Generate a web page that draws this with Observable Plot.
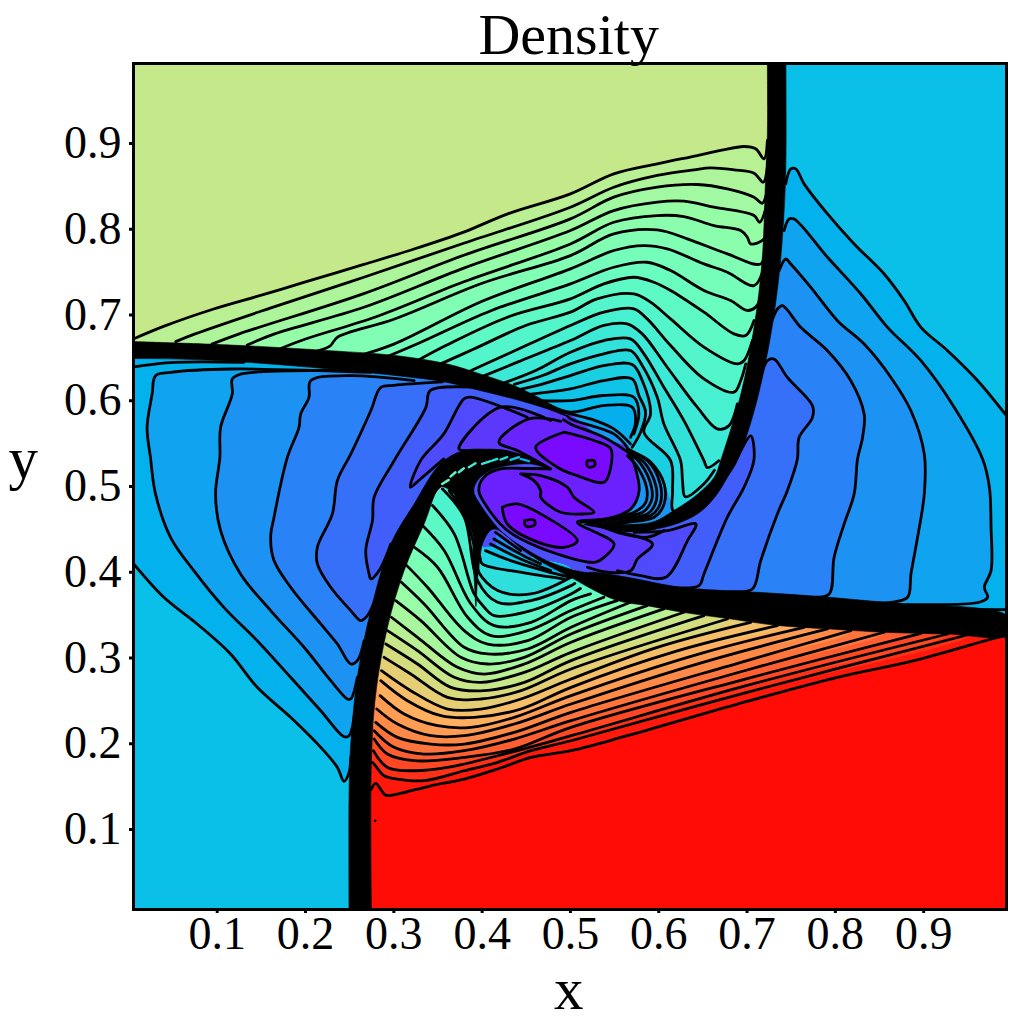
<!DOCTYPE html>
<html><head><meta charset="utf-8">
<style>html,body{margin:0;padding:0;background:#fff}svg{display:block}</style>
<script src="https://cdn.jsdelivr.net/npm/d3@7"></script>
<script src="https://cdn.jsdelivr.net/npm/@observablehq/plot@0.6"></script>
</head><body><div id="chart"></div>
<script>
const title="Density", xLabel="x", yLabel="y";
const xTicks=[.1,.2,.3,.4,.5,.6,.7,.8,.9], yTicks=[.1,.2,.3,.4,.5,.6,.7,.8,.9];
const xDomain=[.0052,.9938], yDomain=[.0067,.9933];

// wedge boundaries read along the thick fronts
const wedgeTop=[[.005,.66],[.115,.655],[.228,.648],[.304,.641],[.361,.632],[.399,.621],[.436,.61],[.474,.595],[.5,.583],[.534,.558],[.5645,.544],[.606,.503],[.6137,.468],[.629,.474],[.655,.491],[.669,.511],[.678,.53],[.7,.6],[.717,.68],[.727,.755],[.732,.82],[.7335,.88],[.7335,.94],[.7335,.9933]];
const wedgeRight=[[.7335,.9933],[.7335,.94],[.7335,.88],[.732,.82],[.727,.755],[.717,.68],[.7,.6],[.678,.53],[.669,.511],[.655,.491],[.633,.472],[.598,.455],[.56,.449],[.527,.4],[.565,.385],[.65,.37],[.75,.36],[.85,.35],[.95,.342],[.9938,.338],[.9938,.45],[.9938,.58],[.9938,.7],[.9938,.9933]];
const wedgeBottom=[[.2625,.0067],[.2625,.1413],[.2663,.1996],[.2739,.2775],[.287,.3553],[.3079,.4214],[.3325,.472],[.3608,.505],[.3797,.5186],[.391,.4914],[.3986,.4408],[.4005,.4292],[.4175,.4292],[.4553,.4175],[.5007,.4039],[.538,.3883],[.5756,.3766],[.651,.363],[.727,.355],[.802,.345],[.916,.339],[.9938,.337]];
const wedgeLeft=[[.0052,.0067],[.0052,.2],[.0052,.3],[.0052,.41],[.0052,.5],[.0052,.6],[.0052,.66],[.115,.655],[.228,.648],[.304,.641],[.361,.632],[.399,.621],[.436,.61],[.474,.595],[.5,.583],[.534,.558],[.5645,.544],[.476,.519],[.432,.532],[.391,.53],[.3608,.512],[.3325,.472],[.3079,.4214],[.287,.3553],[.2739,.2775],[.2663,.1996],[.2625,.1413],[.2625,.0067]];
const centerPatch=[[.33,.34],[.72,.34],[.72,.62],[.33,.62]];

// thick black fronts
const frontUp=[[.723,.9933],[.723,.91],[.721,.86],[.717,.763],[.708,.686],[.693,.608],[.67,.53],[.663,.511],[.644,.491],[.617,.472],[.591,.458],[.515,.456],[.545,.4506],[.568,.4486],[.598,.4506],[.629,.46],[.649,.472],[.666,.491],[.678,.511],[.689,.53],[.708,.588],[.725,.666],[.736,.744],[.742,.822],[.744,.88],[.744,.9933]];
const frontLeft=[[.0052,.669],[.115,.665],[.228,.6584],[.304,.6525],[.3608,.6428],[.3986,.631],[.4364,.6175],[.474,.598],[.4968,.582],[.474,.5905],[.4364,.602],[.3986,.6117],[.3608,.6214],[.304,.6292],[.228,.637],[.134,.6448],[.0584,.6486],[.0052,.6492]];
const frontLow=[[.2493,.0067],[.2493,.1413],[.2512,.1996],[.2587,.2775],[.2739,.3553],[.2966,.433],[.323,.4797],[.3528,.5264],[.3793,.542],[.417,.542],[.4511,.5341],[.4775,.5205],[.4549,.5264],[.4284,.5244],[.4095,.5186],[.3963,.5089],[.3906,.4952],[.4,.4758],[.4227,.4466],[.4435,.431],[.4775,.4116],[.5153,.4],[.5267,.4],[.5645,.3941],[.6025,.3863],[.6477,.379],[.704,.377],[.791,.371],[.878,.363],[.969,.357],[.9938,.349],[.9938,.327],[.927,.328],[.855,.33],[.791,.334],[.734,.338],[.678,.346],[.629,.353],[.587,.361],[.553,.367],[.523,.381],[.504,.392],[.4662,.4126],[.4473,.4252],[.4133,.4505],[.4019,.437],[.3963,.4058],[.3944,.3863],[.393,.36],[.3906,.398],[.3887,.4175],[.3906,.4408],[.3906,.4486],[.3793,.4719],[.3679,.4914],[.3533,.4995],[.3343,.4564],[.3117,.4019],[.2928,.3358],[.2795,.258],[.2746,.1802],[.2746,.0067]];
const tongueTicks=[[[.3547,.503],[.3622,.5077]],[[.3641,.5116],[.3698,.5166]],[[.3736,.5166],[.3793,.5213]],[[.3849,.5225],[.3925,.5271]],[[.4,.5264],[.4095,.5295]],[[.4114,.5303],[.4171,.5322]],[[.4208,.5314],[.4284,.5342]],[[.4322,.531],[.4416,.5342]],[[.4435,.5322],[.453,.5295]]];
const tickLevels=[.44,.42,.4,.38,.36,.34,.32,.28,.24];

// contour polylines, upper wedge
const topLevels=[.61,.588,.566,.544,.522,.5,.478,.456,.434,.412,.39,.368,.346,.324,.302,.28,.26,.24,.22,.2,.18];
const topLines=[
[[.005,.672],[.04,.687],[.096,.707],[.153,.724],[.198,.738],[.266,.759],[.323,.777],[.38,.797],[.429,.818],[.5,.8413],[.5491,.8646],[.5983,.8763],[.6436,.886],[.6701,.8919],[.6966,.8965],[.7098,.8938],[.7192,.8821],[.723,.9035]],
[[.053,.669],[.075,.678],[.16,.708],[.266,.744],[.38,.784],[.5,.8257],[.5491,.849],[.5983,.8627],[.6399,.8693],[.6588,.8716],[.6852,.8693],[.7079,.8654],[.7185,.8549],[.7238,.8802]],
[[.094,.666],[.125,.678],[.266,.725],[.38,.77],[.5,.8121],[.5491,.8374],[.5983,.8491],[.6436,.8522],[.6777,.8471],[.7079,.8374],[.7174,.8304],[.7249,.8568]],
[[.134,.665],[.165,.678],[.266,.709],[.38,.755],[.5,.7985],[.5491,.8218],[.5983,.8316],[.6285,.8327],[.6625,.8257],[.7079,.816],[.7143,.8082],[.723,.8316]],
[[.172,.661],[.2,.672],[.28,.698],[.38,.739],[.5,.7829],[.5491,.8082],[.5983,.816],[.6285,.8148],[.6625,.8043],[.6928,.7985],[.7003,.7907],[.7041,.7829],[.7192,.7888],[.7268,.8179]],
[[.213,.658],[.228,.664],[.236,.674],[.3,.695],[.4,.737],[.5,.7693],[.5491,.7946],[.5983,.7993],[.6323,.7888],[.6777,.7713],[.7155,.7596],[.7211,.7829]],
[[.259,.652],[.3,.666],[.4,.716],[.5,.7538],[.5491,.7752],[.5832,.781],[.6096,.7771],[.6512,.7596],[.6777,.7499],[.7079,.7343],[.7174,.75]],
[[.289,.65],[.33,.668],[.41,.705],[.5,.7363],[.5491,.7557],[.5869,.7615],[.6134,.7518],[.6512,.7286],[.6814,.7169],[.7003,.7053],[.7098,.7092],[.7174,.7247]],
[[.327,.647],[.36,.665],[.43,.698],[.5,.7188],[.5378,.7363],[.5718,.744],[.5945,.7382],[.6134,.7286],[.6512,.7033],[.6852,.678],[.6985,.6761],[.7079,.6936]],
[[.353,.643],[.39,.66],[.45,.688],[.5,.7033],[.5302,.7189],[.5718,.7247],[.5907,.715],[.6134,.6955],[.6512,.6625],[.689,.643],[.6966,.6469],[.706,.6702]],
[[.387,.635],[.43,.655],[.5,.6878],[.5378,.7033],[.5718,.7072],[.5869,.6955],[.6134,.6644],[.6512,.6255],[.6852,.61],[.6928,.6236],[.6985,.643]],
[[.402,.629],[.44,.645],[.5,.6702],[.5378,.6878],[.5643,.6897],[.5813,.678],[.6096,.6391],[.6436,.5925],[.6663,.5672],[.6796,.571],[.689,.5963]],
[[.425,.621],[.46,.635],[.5,.6566],[.5378,.6702],[.568,.6722],[.5832,.6547],[.6058,.6158],[.6285,.5769],[.6512,.5302],[.655,.522],[.668,.53]],
[[.4364,.619],[.47,.63],[.5,.643],[.5378,.6547],[.568,.6586],[.5813,.641],[.5983,.6041],[.6058,.573],[.6247,.5302],[.627,.505],[.63,.488],[.651,.503],[.663,.519]],
[[.444,.6136],[.47,.62],[.5,.6294],[.5378,.641],[.5699,.6422],[.5813,.6236],[.5907,.5847],[.5832,.5633],[.6134,.5302],[.6156,.4952],[.616,.472],[.625,.47],[.649,.493]],
[[.4553,.6078],[.5,.6139],[.5378,.6236],[.5699,.6255],[.5775,.6061],[.5851,.5866],[.5794,.5633],[.5699,.5458]],
[[.4667,.6],[.5,.6002],[.5378,.6061],[.5718,.6041],[.5775,.5847],[.5718,.5613]],
[[.478,.5942],[.5,.5866],[.5378,.5944],[.5699,.5925],[.5737,.5749],[.568,.5574]],
[[.4893,.5886],[.5,.5847],[.5227,.5788],[.5491,.5672],[.568,.5497]],
[[.4968,.582],[.5,.5788],[.5491,.5613],[.5643,.5458]],
[[.492,.578],[.5,.573],[.5378,.5574],[.5624,.5419]]
];

// right wedge
const rightLevels=[.245,.22,.195,.17,.145,.12,.095];
const rightLines=[
[[.7438,.8529],[.7495,.8704],[.7552,.8704],[.7646,.8529],[.7911,.8179],[.8213,.7829],[.8553,.7478],[.878,.7167],[.8969,.6856],[.9271,.6584],[.9612,.6234],[.9938,.5825]],
[[.7419,.7984],[.7476,.812],[.7533,.812],[.7911,.7673],[.8289,.7245],[.8591,.6856],[.8969,.6467],[.9347,.5922],[.9668,.5319],[.9744,.4992],[.9763,.4525],[.9763,.4019],[.9687,.3825],[.9725,.3708],[.9631,.365],[.878,.3623],[.8024,.3638],[.7457,.3669]],
[[.7363,.7517],[.7438,.7653],[.7495,.7595],[.7722,.7323],[.8024,.6934],[.8326,.6661],[.8629,.6272],[.8856,.5883],[.9007,.5378],[.9007,.4914],[.8931,.4408],[.8856,.398],[.8818,.3708],[.8629,.365],[.8213,.365],[.7646,.3669],[.7268,.3689]],
[[.7268,.6895],[.7344,.707],[.74,.7109],[.7608,.6856],[.7911,.6584],[.8175,.6234],[.8326,.5845],[.8308,.5572],[.8251,.532],[.8213,.4914],[.81,.4564],[.7986,.4175],[.793,.3747],[.7759,.3708],[.7268,.3728],[.689,.3747]],
[[.7155,.6272],[.723,.6467],[.7306,.6486],[.7457,.6272],[.7741,.5942],[.7741,.5806],[.7589,.5572],[.757,.532],[.7457,.4953],[.7344,.4681],[.7155,.4136],[.706,.3805],[.6814,.3774],[.6323,.3805]],
[[.689,.5339],[.7041,.559],[.7079,.532],[.6966,.4992],[.6777,.4642],[.6512,.398],[.6455,.3844],[.6134,.3825],[.5869,.3883]],
[[.5721,.4466],[.6099,.4486],[.642,.4563],[.6326,.4369],[.608,.3941],[.5797,.396],[.5532,.4019]]
];
const rightSlivers=[[[.72,.3632],[.85,.3578],[.9938,.3565]],[[.82,.352],[.92,.351],[.9938,.349]]];

// lower wedge
const lowLevels=[.97,.94,.91,.88,.85,.82,.79,.76,.73,.7,.67,.64,.61,.58,.55,.52,.49,.46,.43,.4,.37,.34,.31,.28,.25,.22,.19];
const lowLines=[
[[.2746,.147],[.2795,.1538],[.2909,.1401],[.3041,.1413],[.3419,.151],[.3797,.1588],[.4175,.1705],[.4553,.1841],[.5007,.1919],[.5643,.2094],[.689,.2463],[.8024,.2775],[.8893,.2969],[.9838,.3241],[.9938,.326]],
[[.2746,.178],[.2758,.1783],[.289,.1627],[.3041,.1588],[.3343,.1569],[.3797,.1685],[.4175,.1783],[.4553,.1919],[.5007,.2035],[.7,.26],[.9536,.328]],
[[.2769,.1919],[.2928,.1724],[.323,.1685],[.3608,.1724],[.4175,.186],[.5007,.2094],[.7,.268],[.9271,.328]],
[[.2777,.2055],[.2928,.188],[.323,.1802],[.3797,.1841],[.4364,.1938],[.5007,.2191],[.7,.276],[.8969,.3288]],
[[.2777,.2152],[.3003,.1958],[.3343,.188],[.3797,.1919],[.4364,.2055],[.5007,.2269],[.7,.286],[.8553,.33]],
[[.2795,.2249],[.3041,.2074],[.3419,.1996],[.3797,.1996],[.4364,.2133],[.5007,.2366],[.7,.297],[.8175,.3319]],
[[.2807,.2405],[.3041,.223],[.3419,.2094],[.3797,.2094],[.4364,.223],[.5007,.2463],[.65,.295],[.7911,.3339]],
[[.2845,.2561],[.3117,.2347],[.3495,.221],[.3873,.2191],[.4364,.2308],[.5007,.2561],[.65,.306],[.7646,.3358]],
[[.2852,.2736],[.3154,.2502],[.3533,.2327],[.391,.2308],[.444,.2405],[.5007,.2658],[.62,.308],[.7344,.3377]],
[[.286,.2852],[.3192,.2619],[.3608,.2405],[.3986,.2405],[.444,.2522],[.5007,.2755],[.6,.313],[.7041,.3416]],
[[.289,.3008],[.3192,.2813],[.3608,.2541],[.3986,.2522],[.444,.2619],[.5007,.2872],[.6777,.3455]],
[[.2909,.3163],[.3268,.293],[.3646,.2658],[.4024,.2619],[.4478,.2716],[.5007,.2969],[.6512,.3494]],
[[.2928,.3319],[.3268,.3086],[.3684,.2775],[.3986,.2716],[.4478,.2833],[.5007,.3066],[.6285,.3533]],
[[.2973,.3475],[.3268,.3241],[.3721,.2891],[.4024,.2813],[.4478,.293],[.5007,.3183],[.6058,.3572]],
[[.3022,.3669],[.3306,.3436],[.3759,.3008],[.4062,.293],[.4478,.3008],[.5007,.328],[.5869,.3611]],
[[.3086,.3883],[.3343,.363],[.3797,.3125],[.4062,.3047],[.4515,.3105],[.5007,.3358],[.568,.365]],
[[.3136,.4089],[.3381,.3825],[.3797,.3319],[.4062,.3163],[.4515,.3202],[.5007,.3475],[.5529,.3669]],
[[.323,.4292],[.3495,.4058],[.3835,.3475],[.41,.3261],[.4515,.3319],[.5007,.3553],[.5378,.3708]],
[[.3325,.4544],[.357,.4253],[.3873,.363],[.4137,.3377],[.4553,.3416],[.5007,.3669],[.5227,.3747]],
[[.3438,.4778],[.3684,.4447],[.391,.3747],[.4024,.3591],[.4137,.3494],[.4553,.3553],[.5007,.3747],[.5113,.381]],
[[.3551,.4972],[.3797,.4642],[.3948,.3903],[.4175,.365],[.4553,.3669],[.5007,.3844],[.505,.387]],
[[.3627,.495],[.381,.465],[.3945,.4136],[.3963,.3999],[.4175,.3786],[.4553,.3747],[.5007,.3941]],
[[.3703,.489],[.389,.45],[.3975,.4175],[.4,.41],[.4435,.4],[.4931,.392]],
[[.4038,.4252],[.4322,.4136],[.47,.402],[.5,.394]],
[[.4095,.433],[.4435,.4155],[.4775,.402]],
[[.4133,.4388],[.4473,.419],[.4662,.41]],
[[.4152,.4466],[.4435,.4252]]
];

// left wedge
const leftLevels=[.245,.22,.195,.17,.145,.12,.095,.07,.045];
const leftLines=[
[[.0052,.41],[.0395,.3708],[.0773,.3397],[.1151,.3047],[.1453,.2658],[.1831,.2308],[.2172,.1958],[.2361,.1724],[.2436,.1561],[.2493,.1666],[.2512,.1841]],
[[.2739,.633],[.1151,.637],[.0471,.6331],[.0301,.6292],[.0263,.6078],[.0206,.5689],[.0244,.5339],[.0301,.4914],[.0471,.4408],[.0735,.4019],[.1075,.3591],[.1453,.3202],[.1831,.2775],[.2172,.2385],[.2436,.2082],[.2493,.2094],[.255,.2308]],
[[.2663,.635],[.1264,.6311],[.117,.6253],[.117,.6078],[.1038,.5689],[.103,.5339],[.0981,.4914],[.1038,.4486],[.1264,.398],[.1605,.3553],[.1983,.3125],[.2285,.2736],[.2474,.2522],[.2512,.2522],[.2587,.2775]],
[[.323,.6234],[.2474,.6292],[.2058,.6234],[.2039,.6039],[.1945,.5845],[.1926,.5689],[.1794,.5339],[.1643,.4642],[.1605,.4408],[.1643,.4136],[.1831,.3825],[.2172,.3397],[.2361,.3163],[.2512,.293],[.2587,.2969],[.2663,.3202]],
[[.355,.622],[.3,.618],[.2852,.6156],[.2739,.5884],[.2512,.5378],[.2361,.507],[.2304,.468],[.2134,.4292],[.2134,.4097],[.2285,.3825],[.2512,.3553],[.2625,.3436],[.2701,.3494],[.2814,.3747]],
[[.4,.615],[.3415,.612],[.3362,.592],[.3003,.53],[.2777,.4875],[.2758,.4603],[.2682,.4253],[.272,.398],[.2739,.3922],[.2833,.4019],[.2966,.433]],
[[.4511,.5808],[.3869,.6042],[.3793,.6022],[.3566,.5614],[.3302,.5302],[.3188,.4991],[.3302,.5088],[.3566,.5322]],
[[.4776,.577],[.4209,.5925],[.3737,.5439],[.3831,.5419],[.4209,.5419],[.4549,.5322],[.4757,.5205]],
[[.489,.576],[.453,.5789],[.419,.5516],[.4398,.5419],[.4776,.5205]]
];
const leftSliver=[[.0074,.6397],[.0508,.6447],[.13,.6447]];

// spiral core
const spiralBand=[[.5645,.5439],[.5872,.5302],[.6061,.503],[.6137,.472],[.6,.452],[.5494,.4486],[.5078,.4583],[.5419,.4622],[.5683,.4738],[.5778,.4952],[.5721,.5263]];
const fingerLine=[[.5192,.4575],[.5494,.4486],[.5929,.433],[.5759,.4155],[.5683,.4019],[.5419,.4],[.5192,.4058]];
const coreRing=[[.5645,.5439],[.5721,.5263],[.5778,.4952],[.5683,.4738],[.5419,.4622],[.5078,.4583],[.5494,.433],[.5381,.4174],[.5267,.4116],[.4851,.4213],[.4473,.4369],[.4265,.4505],[.4057,.4758],[.3963,.4952],[.402,.5108],[.4208,.5205],[.45,.521],[.4775,.5205]];
const spiralLines=[
[[.5645,.5439],[.5721,.54],[.591,.5283],[.6061,.503],[.6061,.4797],[.5948,.4641],[.5645,.4583],[.5494,.4555]],
[[.5645,.5419],[.5872,.5302],[.6016,.503],[.6016,.4797],[.591,.4661],[.5608,.4602],[.5419,.4563],[.5343,.454]],
[[.5645,.54],[.5834,.5283],[.5967,.5011],[.5967,.4816],[.5872,.468],[.557,.4622],[.5267,.4563]],
[[.5664,.5388],[.5797,.5263],[.5918,.4991],[.5918,.4836],[.5816,.4699],[.5532,.4641],[.5192,.4575]],
[[.5645,.536],[.5766,.5217],[.5865,.4972],[.5853,.4816],[.5721,.4699],[.5494,.4641],[.5116,.4583]],
[[.5343,.454],[.557,.4454],[.5872,.4408],[.6061,.4486]],
[[.5419,.4524],[.5645,.4486],[.5948,.4505]],
[[.5494,.4555],[.5721,.4524],[.5986,.4563]]
];
const coreLobes=[
[[.4927,.5633],[.4606,.5458],[.4852,.5225],[.5078,.5127],[.5381,.505],[.5456,.5225],[.5456,.5439],[.5267,.5536],[.4927,.5633]],
[[.4436,.5147],[.4663,.5127],[.4965,.4991],[.504,.4875],[.5267,.4699],[.5154,.468],[.489,.4699],[.4663,.4875],[.4663,.4952],[.4587,.5069],[.4436,.5147]],
[[.4228,.4758],[.4398,.4797],[.4663,.468],[.5078,.4369],[.4927,.4291],[.4587,.4369],[.4285,.4563],[.4228,.4758]],
[[.5192,.5302],[.5267,.5302],[.5275,.5244],[.5211,.5225],[.5184,.5263],[.5192,.5302]],
[[.4481,.4602],[.4587,.461],[.4598,.4555],[.4511,.4532],[.4481,.4563],[.4481,.4602]]
];
const lobeLevels=[.012,.02,.012,0,0];
const strayDot=[[.2788,.1102]];
const plateau={top:.635,right:.27,bottom:.985,left:.27,spiral:.2,finger:.07,core:.04,center:.1};

// matplotlib "rainbow" as the colour interpolator
const rainbow=t=>{const c=v=>Math.round(255*Math.max(0,Math.min(1,v)));
  return `rgb(${c(Math.abs(2*t-.5))},${c(Math.sin(Math.PI*t))},${c(Math.cos(Math.PI*t/2))})`;};

const nearest=(W,p)=>d3.minIndex(W,q=>(q[0]-p[0])**2+(q[1]-p[1])**2);
function band(line,W){
  const i=nearest(W,line[0]), j=nearest(W,line[line.length-1]);
  const tail=W.slice(Math.min(i,j),Math.max(i,j)+1);
  if(j>i) tail.reverse();
  return line.concat(tail);
}
const fills=[], strokes=[], black=[], ticks=[];
let id=0;
const addFill=(pts,level)=>{id++;pts.forEach(p=>fills.push({id,x:p[0],y:p[1],level}));};
const addStroke=pts=>{id++;pts.forEach(p=>strokes.push({id,x:p[0],y:p[1]}));};
const addBlack=pts=>{id++;pts.forEach(p=>black.push({id,x:p[0],y:p[1]}));};

addFill(centerPatch,plateau.center);
addFill(wedgeTop.concat([[xDomain[0],yDomain[1]]]),plateau.top);
addFill(wedgeRight,plateau.right);
addFill(wedgeBottom.concat([[xDomain[1],yDomain[0]]]),plateau.bottom);
addFill(wedgeLeft,plateau.left);
topLines.forEach((l,i)=>addFill(band(l,wedgeTop),topLevels[i]));
rightLines.forEach((l,i)=>addFill(band(l,wedgeRight),rightLevels[i]));
lowLines.forEach((l,i)=>addFill(band(l,wedgeBottom),lowLevels[i]));
leftLines.forEach((l,i)=>addFill(band(l,wedgeLeft),leftLevels[i]));
addFill(spiralBand,plateau.spiral);
addFill(fingerLine,plateau.finger);
addFill(coreRing,plateau.core);
coreLobes.forEach((l,i)=>addFill(l,lobeLevels[i]));

[frontUp,frontLeft,frontLow].forEach(addBlack);
[...topLines,...rightLines,...rightSlivers,...lowLines,...leftLines,leftSliver,...spiralLines,fingerLine,coreRing,...coreLobes].forEach(addStroke);
tongueTicks.forEach((l,i)=>{id++;l.forEach(p=>ticks.push({id,x:p[0],y:p[1],level:tickLevels[i]}));});

const serif='"Liberation Serif","Times New Roman",serif';
const chart=Plot.plot({
  width:1013,height:1030,marginLeft:133,marginRight:7,marginTop:63,marginBottom:121,
  style:{fontFamily:serif,background:"#fff",color:"#000"},
  x:{domain:xDomain,label:null},
  y:{domain:yDomain,label:null},
  color:{type:"linear",domain:[0,1],interpolate:rainbow},
  marks:[
    Plot.line(fills,{x:"x",y:"y",z:"id",fill:"level",stroke:"none",curve:"catmull-rom",clip:true}),
    Plot.line(black,{x:"x",y:"y",z:"id",fill:"#000",stroke:"#000",strokeWidth:.6,curve:"catmull-rom",clip:true}),
    Plot.line(strokes,{x:"x",y:"y",z:"id",stroke:"#000",strokeWidth:2.8,curve:"catmull-rom",clip:true}),
    Plot.line(ticks,{x:"x",y:"y",z:"id",stroke:"level",strokeWidth:2.4,clip:true}),
    Plot.dot(strayDot,{x:d=>d[0],y:d=>d[1],r:1.3,fill:"#000",stroke:"none"}),
    Plot.frame({stroke:"#000",strokeWidth:3}),
    Plot.axisX({ticks:xTicks,tickSize:4,tickPadding:3,strokeWidth:3,fontSize:46,tickFormat:d=>d.toFixed(1),label:null,fill:"#000"}),
    Plot.axisY({ticks:yTicks,tickSize:4,tickPadding:8,strokeWidth:3,fontSize:46,tickFormat:d=>d.toFixed(1),label:null,fill:"#000"}),
    Plot.text([title],{x:.498,frameAnchor:"top",dy:-10,lineAnchor:"bottom",fontSize:58,fill:"#000"}),
    Plot.text([xLabel],{x:.498,frameAnchor:"bottom",dy:58,lineAnchor:"top",fontSize:59,fill:"#000"}),
    Plot.text([yLabel],{y:.532,frameAnchor:"left",dx:-125,textAnchor:"start",fontSize:59,fill:"#000"})
  ]
});
document.getElementById("chart").append(chart);
</script></body></html>
